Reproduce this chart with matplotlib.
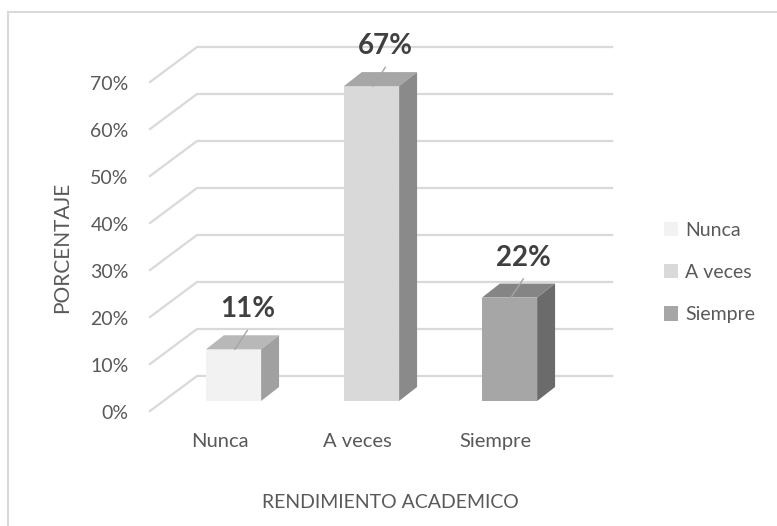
import matplotlib
matplotlib.use('Agg')
import matplotlib.pyplot as plt
from matplotlib.patches import Polygon, Rectangle, Patch

categories = ['Nunca', 'A veces', 'Siempre']
values = [11, 67, 22]
tick_values = [0, 10, 20, 30, 40, 50, 60, 70]

face_colors = ['#F2F2F2', '#D9D9D9', '#A6A6A6']
top_colors = ['#B8B8B8', '#A6A6A6', '#858585']
side_colors = ['#A0A0A0', '#8A8A8A', '#6B6B6B']

plt.rcParams['font.family'] = ['Lato', 'DejaVu Sans']
text_color = '#595959'
grid_color = '#D9D9D9'

fig = plt.figure(figsize=(7.77, 5.26), dpi=100)
ax = fig.add_axes([0, 0, 1, 1])
ax.set_xlim(-1.692, 3.938)
ax.set_ylim(-26.6, 85.32)
ax.axis('off')

# chart border (right and bottom edges fall outside the picture)
fig.patches.append(Rectangle((8 / 777, -0.1), 1.2, 1.1 - 12 / 526, transform=fig.transFigure,
                             fill=False, edgecolor=grid_color, lw=1.5))

# pseudo 3d wall gridlines
x_front, x_back, x_right = -0.605, -0.2645, 2.743
front_off, back_off = -2.13, 5.32
for v in tick_values:
    ax.plot([x_front, x_back, x_right], [v + front_off, v + back_off, v + back_off],
            color=grid_color, lw=1.6, zorder=1)
    ax.text(-0.76, v - 2.6, f'{v}%', ha='right', va='center', fontsize=14, color=text_color)

# bars
width = 0.4
dx, dy = 0.13, 2.98
xs = list(range(len(categories)))
ax.bar(xs, values, width=width, color=face_colors, zorder=3)
for x, v, tc, sc in zip(xs, values, top_colors, side_colors):
    l, r = x - width / 2, x + width / 2
    ax.add_patch(Polygon([(l, v), (r, v), (r + dx, v + dy), (l + dx, v + dy)],
                         closed=True, facecolor=tc, edgecolor='none', zorder=3))
    ax.add_patch(Polygon([(r, 0), (r + dx, dy), (r + dx, v + dy), (r, v)],
                         closed=True, facecolor=sc, edgecolor='none', zorder=3))
    ax.plot([x + 0.1, x + 0.01], [v + 4.0, v], color='#A6A6A6', lw=1, zorder=4)
    ax.text(x + 0.1, v + 8.5, f'{v}%', ha='center', va='center', fontsize=20,
            fontweight='bold', color='#404040', zorder=5)
    ax.text(x - 0.1, -8.7, categories[x], ha='center', va='center', fontsize=14.5,
            color=text_color)

fig.text(62 / 777, 1 - 247 / 526, 'PORCENTAJE', rotation=90, ha='center', va='center',
         fontsize=15, color=text_color)
fig.text(390 / 777, 1 - 503 / 526, 'RENDIMIENTO ACADEMICO', ha='center', va='center',
         fontsize=14, color=text_color)

handles = [Patch(facecolor=c, edgecolor='none') for c in face_colors]
fig.legend(handles, categories, loc='upper left', bbox_to_anchor=(654 / 777, 1 - 212 / 526),
           frameon=False, fontsize=14, handlelength=0.75, handleheight=0.75, handletextpad=0.35,
           labelspacing=1.3, labelcolor=text_color, borderpad=0)

fig.savefig('out.png', dpi=100)
